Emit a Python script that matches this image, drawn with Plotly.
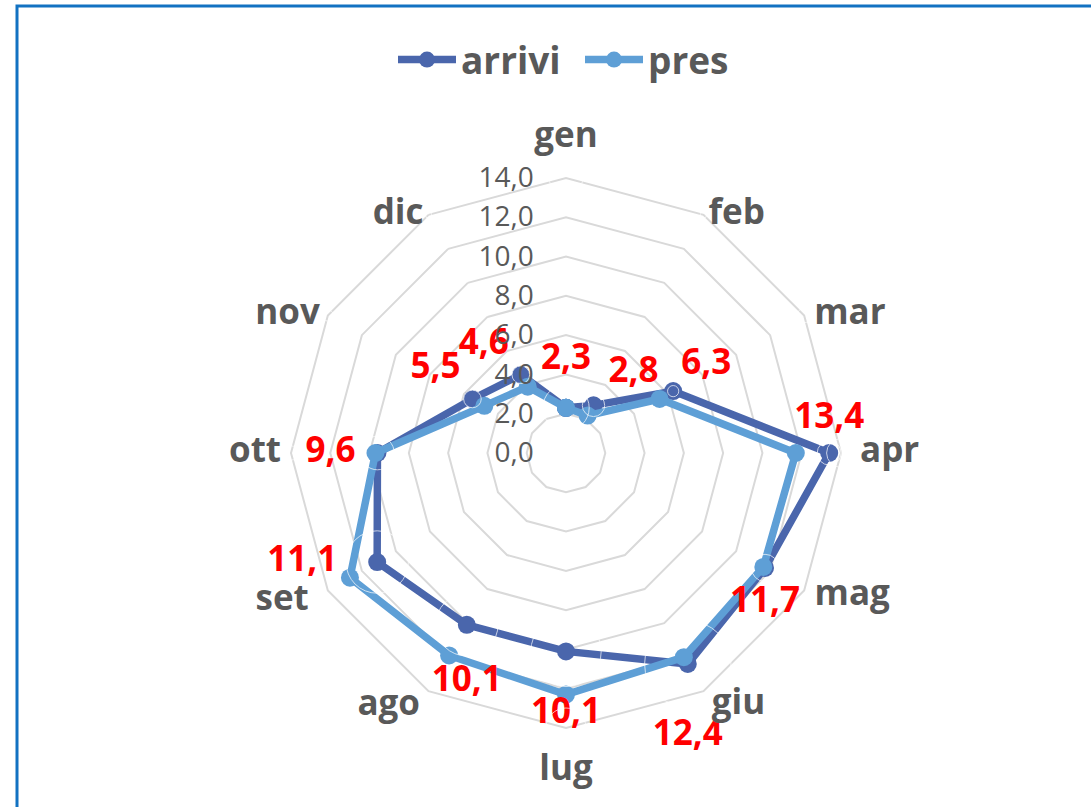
import plotly.graph_objects as go

months = ["gen", "feb", "mar", "apr", "mag", "giu", "lug", "ago", "set", "ott", "nov", "dic"]
arrivi = [2.3, 2.8, 6.3, 13.4, 11.7, 12.4, 10.1, 10.1, 11.1, 9.6, 5.5, 4.6]
pres = [2.3, 2.2, 5.5, 11.7, 11.6, 12.0, 12.3, 11.9, 12.7, 9.7, 4.8, 3.9]
radial_ticks = [0, 2, 4, 6, 8, 10, 12, 14]

DARK = "#4A66AC"
LIGHT = "#5E9FD6"
GRAY = "#595959"

# data-label placement (style only)
label_pos = ["top center", "top right", "top right", "top center", "bottom center",
             "bottom center", "bottom center", "bottom center", "middle left",
             "middle left", "top left", "top left"]
label_gap = [30, 15, 8, 16, 18, 55, 45, 40, 40, 22, 12, 12]  # px from point

# month-name placement around the outer ring (style only)
R_OUTER = 14
cat_pos = ["top center", "middle right", "middle right", "middle right", "middle right",
           "middle right", "bottom center", "middle left", "middle left", "middle left",
           "middle left", "middle left"]
cat_gap = [22, 5, 10, 19, 0, 0, 26, 0, 0, 10, 8, 5]          # px sideways
cat_push = [0, 0, 0, 0, 12, 16.5, 0, 17, 22, 0, 0, 0]       # px outward
R_MAX = 16.5  # radial range kept beyond the outer ring so the month names are not hidden

W, H = 1091, 807
cx, cy = 566, 453
unit = 275 / 14          # px per axis unit
R = R_MAX * unit


def close(v):
    return list(v) + [v[0]]


def gap_to_size(gaps):
    return [max(1.6 * (g - 1), 0) for g in gaps]


fig = go.Figure()
fig.add_trace(go.Scatterpolar(
    r=close(arrivi), theta=close(months), name="arrivi", mode="lines+markers",
    line=dict(color=DARK, width=7.5), marker=dict(color=DARK, size=18),
))
fig.add_trace(go.Scatterpolar(
    r=close(pres), theta=close(months), name="pres", mode="lines+markers",
    line=dict(color=LIGHT, width=7.5), marker=dict(color=LIGHT, size=18),
))
# red data labels (arrivi values); invisible markers set the label distance
fig.add_trace(go.Scatterpolar(
    r=arrivi, theta=months, mode="markers+text", showlegend=False, hoverinfo="skip",
    cliponaxis=False,
    marker=dict(size=gap_to_size(label_gap), color="rgba(0,0,0,0)"),
    text=[f"{v:.1f}".replace(".", ",") for v in arrivi],
    textposition=label_pos,
    textfont=dict(family="Open Sans", size=35, color="#FF0000", weight="bold"),
))
# month names, placed next to the outer ring's vertices
fig.add_trace(go.Scatterpolar(
    r=[R_OUTER + p / unit for p in cat_push], theta=months, mode="markers+text",
    showlegend=False, hoverinfo="skip", cliponaxis=False, text=months,
    textposition=cat_pos,
    marker=dict(size=gap_to_size(cat_gap), color="rgba(0,0,0,0)"),
    textfont=dict(family="Open Sans", size=35, color=GRAY, weight="bold"),
))

fig.update_layout(
    width=W, height=H,
    margin=dict(l=0, r=0, t=0, b=0),
    paper_bgcolor="white",
    separators=",.",
    font=dict(family="Open Sans", color=GRAY),
    showlegend=True,
    legend=dict(
        orientation="h", x=580 / W, xanchor="center", y=1 - 60 / H, yanchor="middle",
        font=dict(family="Open Sans", size=37, color=GRAY, weight="bold"),
        itemwidth=58, entrywidth=114,
    ),
    polar=dict(
        domain=dict(x=[(cx - R) / W, (cx + R) / W], y=[1 - (cy + R) / H, 1 - (cy - R) / H]),
        gridshape="linear",
        bgcolor="white",
        angularaxis=dict(
            direction="clockwise", rotation=90,
            showgrid=False, showline=False,
            ticks="", showticklabels=False,
        ),
        radialaxis=dict(
            range=[0, R_MAX], tickvals=radial_ticks, tickformat=".1f",
            angle=90, tickangle=90, side="counterclockwise",
            showline=False, gridcolor="#D9D9D9", gridwidth=1.5,
            ticks="outside", ticklen=22, tickcolor="rgba(0,0,0,0)",
            tickfont=dict(family="Open Sans", size=28, color=GRAY),
        ),
    ),
    shapes=[dict(type="rect", xref="paper", yref="paper",
                 x0=17 / W, x1=1.05, y0=-0.05, y1=1 - 6 / H,
                 line=dict(color="#1272C2", width=3), fillcolor="rgba(0,0,0,0)")],
)

fig.write_html("out.html", config={"displayModeBar": False},
               post_script="document.body.style.margin='0';")
